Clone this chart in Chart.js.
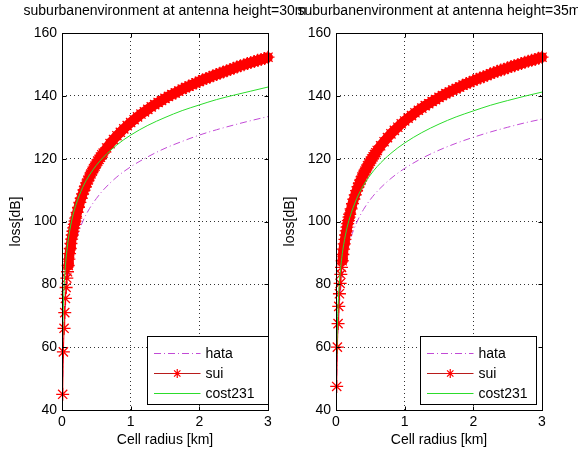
<!DOCTYPE html>
<html><head><meta charset="utf-8">
<script src="https://cdn.jsdelivr.net/npm/chart.js@4/dist/chart.umd.min.js"></script>
<style>
html,body{margin:0;padding:0;background:#fff;overflow:hidden;}
#wrap{position:relative;width:578px;height:452px;background:#fff;}
canvas{position:absolute;left:0;top:0;}
</style></head><body>
<div id="wrap"><canvas id="c1" width="578" height="452"></canvas><canvas id="c2" width="578" height="452"></canvas></div>
<script>
// ---------- data ----------
const seriesNames = ['hata', 'sui', 'cost231'];
const panelTitles = ['suburbanenvironment at antenna height=30m', 'suburbanenvironment at antenna height=35m'];
const xAxisLabel = 'Cell radius [km]';
const yAxisLabel = 'loss[dB]';
const xTicks = [0, 1, 2, 3];
const yTicks = [40, 60, 80, 100, 120, 140, 160];

const radiusSui = [0.01,0.02,0.03,0.04,0.05,0.06,0.07,0.08,0.09,0.10,0.11,0.12,0.13,0.14,0.15,0.16,0.17,0.18,0.19,0.20,
  0.22,0.24,0.26,0.28,0.30,0.32,0.34,0.36,0.38,0.40,0.42,0.44,0.46,0.48,0.50,0.52,0.54,0.56,0.58,0.60,
  0.65,0.70,0.75,0.80,0.85,0.90,0.95,1.00,1.05,1.10,1.15,1.20,1.25,1.30,1.35,1.40,1.45,1.50,1.55,1.60,
  1.65,1.70,1.75,1.80,1.85,1.90,1.95,2.00,2.05,2.10,2.15,2.20,2.25,2.30,2.35,2.40,2.45,2.50,2.55,2.60,
  2.65,2.70,2.75,2.80,2.85,2.90,2.95,3.00];
const suiLeft = [45,58.5,66,71,75.5,79,82,84,86,88,89.8,91.4,93,94.4,95.7,96.9,98,99.1,100.1,101.1,
  102.9,104.5,106.1,107.4,108.8,110,111.1,112.2,113.2,114.2,115.1,116,116.8,117.6,118.4,119.2,119.8,120.5,121.2,121.8,
  123.4,124.8,126.1,127.3,128.4,129.5,130.5,131.5,132.4,133.3,134.2,134.9,135.7,136.5,137.2,137.9,138.5,139.2,139.8,140.4,
  140.9,141.5,142.1,142.6,143.1,143.6,144.1,144.6,145.1,145.5,145.9,146.4,146.8,147.2,147.6,148,148.4,148.8,149.2,149.6,
  149.9,150.3,150.6,150.9,151.3,151.6,151.9,152.3];
const suiRight = [47.5,60,67.5,73,77,80.3,83.2,85.4,87.5,89.5,91.2,92.9,94.3,95.7,97,98.2,99.3,100.3,101.4,102.3,
  104,105.7,107.1,108.5,109.8,111,112.1,113.1,114.2,115.1,116,116.8,117.7,118.4,119.2,119.9,120.6,121.3,121.9,122.6,
  124.1,125.4,126.7,127.9,129,130,131.1,132,132.9,133.7,134.6,135.4,136.1,136.9,137.5,138.2,138.8,139.5,140.1,140.7,
  141.2,141.8,142.3,142.8,143.4,143.9,144.3,144.8,145.3,145.7,146.1,146.5,147,147.4,147.8,148.2,148.5,148.9,149.3,149.6,
  150,150.3,150.7,151,151.3,151.6,152,152.3];

const radiusLine = [0.01,0.02,0.03,0.05,0.07,0.1,0.15,0.2,0.3,0.4,0.5,0.6,0.8,1,1.25,1.5,1.75,2,2.25,2.5,2.75,3];
const hataLeft  = [50.4,60.5,66.4,73.8,78.7,83.9,89.8,94.0,99.9,104.1,107.3,110.0,114.2,117.4,120.6,123.3,125.5,127.5,129.2,130.7,132.1,133.4];
const costLeft  = [63.5,73.1,78.8,85.9,90.5,95.5,101.1,105.1,110.8,114.8,117.9,120.4,124.4,127.5,130.6,133.1,135.3,137.1,138.8,140.2,141.5,142.8];
const hataRight = [50.9,60.8,66.6,74.0,78.8,83.9,89.7,93.8,99.6,103.8,107.0,109.6,113.7,116.9,120.1,122.7,124.9,126.8,128.5,130.0,131.4,132.6];
const costRight = [57.0,67.2,73.2,80.8,85.7,91.0,97.0,101.2,107.2,111.5,114.8,117.5,121.7,125.0,128.3,131.0,133.3,135.2,137.0,138.5,139.9,141.2];

// ---------- styling ----------
const FONT = '"Liberation Sans", Arial, Helvetica, sans-serif';
const FS = 14;
const colors = { hata: '#c24ad6', sui: '#ff0000', cost231: '#2cdc2c' };

function drawStar(ctx, x, y, r) {
  ctx.beginPath();
  ctx.moveTo(x - r, y); ctx.lineTo(x + r, y);
  ctx.moveTo(x, y - r); ctx.lineTo(x, y + r);
  const d = r * Math.SQRT1_2;
  ctx.moveTo(x - d, y - d); ctx.lineTo(x + d, y + d);
  ctx.moveTo(x - d, y + d); ctx.lineTo(x + d, y - d);
  ctx.stroke();
}

const matlabPlugin = {
  id: 'matlab',
  afterDraw(chart, args, opts) {
    const ctx = chart.ctx, a = chart.chartArea;
    const xs = chart.scales.x, ys = chart.scales.y;
    ctx.save();
    ctx.setLineDash([]);
    ctx.strokeStyle = '#000'; ctx.lineWidth = 1;
    const L = Math.round(a.left) + 0.5, R = Math.round(a.right) + 0.5, T = Math.round(a.top) + 0.5, B = Math.round(a.bottom) + 0.5;
    ctx.strokeRect(L, T, R - L, B - T);
    const tl = 4;
    ctx.beginPath();
    xs.ticks.forEach(t => {
      const px = Math.round(xs.getPixelForValue(t.value)) + 0.5;
      ctx.moveTo(px, B); ctx.lineTo(px, B - tl);
      ctx.moveTo(px, T); ctx.lineTo(px, T + tl);
    });
    ys.ticks.forEach(t => {
      const py = Math.round(ys.getPixelForValue(t.value)) + 0.5;
      ctx.moveTo(L, py); ctx.lineTo(L + tl, py);
      ctx.moveTo(R, py); ctx.lineTo(R - tl, py);
    });
    ctx.stroke();
    ctx.fillStyle = '#000';
    ctx.font = FS + 'px ' + FONT;
    ctx.textAlign = 'center'; ctx.textBaseline = 'middle';
    ctx.fillText(opts.title, (a.left + a.right) / 2, opts.titleY);
    const lg = opts.legend;
    const bx = Math.round(a.right - lg.rightInset - lg.width) + 0.5;
    const by = Math.round(a.bottom - lg.bottomInset - lg.height) + 0.5;
    ctx.fillStyle = '#fff';
    ctx.fillRect(bx, by, lg.width, lg.height);
    ctx.strokeStyle = '#000';
    ctx.strokeRect(bx, by, lg.width, lg.height);
    const rows = [16.5, 36.5, 56];
    seriesNames.forEach((name, i) => {
      const ds = chart.data.datasets.find(d => d.label === name);
      const y = Math.round(by + rows[i]) + 0.5;
      const x1 = bx + 6.5, x2 = bx + 53;
      ctx.strokeStyle = name === 'sui' ? '#b81c1c' : ds.borderColor;
      ctx.lineWidth = 1;
      ctx.setLineDash(ds.borderDash || []);
      ctx.beginPath(); ctx.moveTo(x1, y); ctx.lineTo(x2, y); ctx.stroke();
      ctx.setLineDash([]);
      if (ds.pointStyle === 'star' && ds.pointRadius > 0) {
        ctx.strokeStyle = ds.pointBorderColor;
        ctx.lineWidth = 1.2;
        drawStar(ctx, (x1 + x2) / 2, y, 4.5);
      }
      ctx.fillStyle = '#000';
      ctx.textAlign = 'left'; ctx.textBaseline = 'middle';
      ctx.fillText(name, bx + 58, y + 0.5);
    });
    ctx.restore();
  }
};

function makeChart(id, sui, hata, cost, title, legendOpts) {
  const pts = (xs, ys) => xs.map((x, i) => ({ x: x, y: ys[i] }));
  const tickFont = { family: FONT, size: FS };
  const chart = new Chart(document.getElementById(id), {
    type: 'line',
    data: {
      datasets: [
        { label: seriesNames[0], data: pts(radiusLine, hata), borderColor: colors.hata, borderWidth: 1,
          borderDash: [7, 3, 1, 3], pointRadius: 0, cubicInterpolationMode: 'monotone', order: 3, fill: false },
        { label: seriesNames[1], data: pts(radiusSui, sui), borderColor: colors.sui, borderWidth: 1,
          borderCapStyle: 'round', borderJoinStyle: 'round',
          segment: { borderWidth: c => (c.p0.parsed.y >= 86 ? 10 : 1) },
          pointStyle: 'star', pointRadius: 6.5, pointBorderColor: colors.sui, pointBackgroundColor: colors.sui,
          pointBorderWidth: 1.3, order: 2, clip: false, fill: false, tension: 0 },
        { label: seriesNames[2], data: pts(radiusLine, cost), borderColor: colors.cost231, borderWidth: 1,
          pointRadius: 0, cubicInterpolationMode: 'monotone', order: 1, fill: false }
      ]
    },
    options: {
      responsive: false, animation: false, devicePixelRatio: 1,
      events: [],
      layout: { padding: { left: 0, right: 0, top: 0, bottom: 0 } },
      plugins: {
        legend: { display: false }, tooltip: { enabled: false },
        matlab: { title: title, titleY: 11, legend: legendOpts }
      },
      scales: {
        x: {
          type: 'linear', min: xTicks[0], max: xTicks[xTicks.length - 1],
          afterBuildTicks: s => { s.ticks = xTicks.map(v => ({ value: v })); },
          afterFit: s => { s.height = 42; },
          grid: { color: 'rgba(0,0,0,0.8)', lineWidth: 1, drawTicks: false },
          border: { display: false, dash: [1, 3] },
          ticks: { color: '#000', font: tickFont, padding: 4, maxRotation: 0, autoSkip: false },
          title: { display: true, text: xAxisLabel, color: '#000', font: tickFont, padding: { top: 0, bottom: 3 } }
        },
        y: {
          type: 'linear', min: yTicks[0], max: yTicks[yTicks.length - 1],
          afterBuildTicks: s => { s.ticks = yTicks.map(v => ({ value: v })); },
          afterFit: s => { s.width = 55; },
          grid: { color: 'rgba(0,0,0,0.8)', lineWidth: 1, drawTicks: false },
          border: { display: false, dash: [1, 3] },
          ticks: { color: '#000', font: tickFont, padding: 5, autoSkip: false },
          title: { display: true, text: yAxisLabel, color: '#000', font: tickFont, padding: { top: 1, bottom: 0 } }
        }
      }
    },
    plugins: [matlabPlugin]
  });
  return chart;
}

function fitArea(chart, t) {
  for (let k = 0; k < 4; k++) {
    const a = chart.chartArea, p = chart.options.layout.padding;
    const dl = t.left - a.left, dr = a.right - t.right, dt = t.top - a.top, db = a.bottom - t.bottom;
    if (Math.abs(dl) + Math.abs(dr) + Math.abs(dt) + Math.abs(db) < 0.05) break;
    p.left += dl; p.right += dr; p.top += dt; p.bottom += db;
    chart.update('none');
  }
}

const c1 = makeChart('c1', suiLeft, hataLeft, costLeft, panelTitles[0],
  { width: 121, height: 68, rightInset: 0, bottomInset: 6 });
fitArea(c1, { left: 62, right: 268, top: 33, bottom: 410 });
const c2 = makeChart('c2', suiRight, hataRight, costRight, panelTitles[1],
  { width: 116, height: 68, rightInset: 6, bottomInset: 6 });
fitArea(c2, { left: 336, right: 542, top: 33, bottom: 410 });
</script></body></html>
